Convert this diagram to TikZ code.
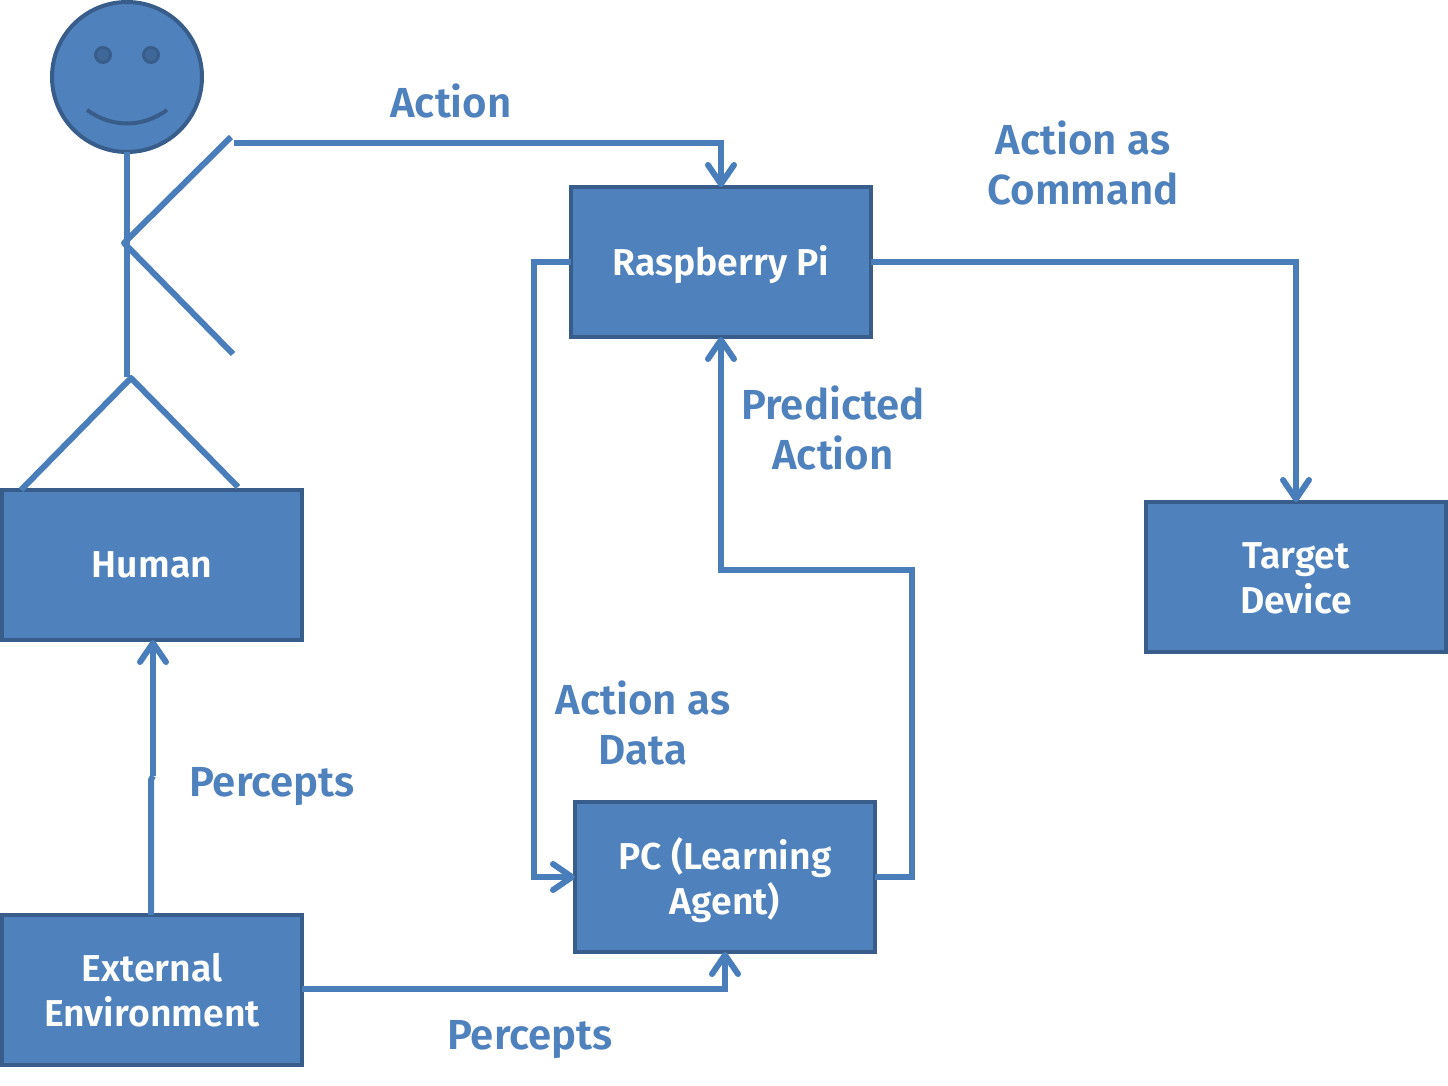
\documentclass[tikz,border=0pt]{standalone}
\usepackage{fontspec}
\setmainfont{Fira Sans}[UprightFont=* SemiBold,BoldFont=* SemiBold]
\usetikzlibrary{arrows.meta,calc}
\definecolor{boxfill}{HTML}{4F81BD}
\definecolor{boxedge}{HTML}{385D8A}
\definecolor{wire}{HTML}{4A7EBB}
\newcommand{\lowertext}[2]{\raisebox{-#1}[\height][\depth]{\begin{tabular}{@{}c@{}}#2\end{tabular}}}
\tikzset{
  x=0.5pt,y=-0.5pt,
  blockbox/.style={draw=boxedge,fill=boxfill,line width=2pt,rectangle,minimum width=150pt,minimum height=75pt,outer sep=0pt,inner sep=0pt,text=white,align=center,font=\fontsize{18.7}{22.5}\selectfont},
  wirelabel/.style={text=boxfill,align=center,inner sep=0pt,font=\fontsize{21}{25}\selectfont},
  wireline/.style={draw=wire,line width=3pt,line join=miter},
  wirearrow/.style={wireline,-{Straight Barb[length=9.5pt,width=13pt,round,line width=3pt]}},
  limb/.style={draw=wire,line width=3pt},
}
\begin{document}
\begin{tikzpicture}
\useasboundingbox (0,0) rectangle (1448,1086);
% boxes
\node[blockbox] (human) at (152,565) {Human};
\node[blockbox] (ext) at (152,990) {External\\Environment};
\node[blockbox] (pi) at (721,262) {\lowertext{2.5pt}{Raspberry Pi}};
\node[blockbox] (pc) at (725,877) {\lowertext{3pt}{PC (Learning\\Agent)}};
\node[blockbox] (target) at (1296,577) {\lowertext{2.5pt}{Target\\Device}};
% stick figure
\node[circle,draw=boxedge,fill=boxfill,line width=2pt,minimum size=75pt,inner sep=0pt,outer sep=0pt] (head) at (127,77) {};
\node[circle,draw=boxedge,fill=boxedge!70!boxfill,line width=1.5pt,minimum size=7.5pt,inner sep=0pt] (eyeL) at (103,55) {};
\node[circle,draw=boxedge,fill=boxedge!70!boxfill,line width=1.5pt,minimum size=7.5pt,inner sep=0pt] (eyeR) at (151,55) {};
\coordinate (smileL) at (87,110);
\coordinate (smileR) at (167,110);
\draw[boxedge,line width=2pt] (smileL) .. controls (112,128) and (142,128) .. (smileR);
\coordinate (hip) at (127,377);
\coordinate (hand) at (231,137);
\coordinate (waist) at (124,243);
\coordinate (handlow) at (233,354);
\coordinate (crotch) at (131,378);
\coordinate (footL) at (21,490);
\coordinate (footR) at (238,487);
\draw[limb] (head.south) -- (hip);
\draw[limb,line join=round] (hand) -- (waist) -- (handlow);
\draw[limb,line join=round] (footL) -- (crotch) -- (footR);
% connectors
\coordinate (actionstart) at (234,143);
\draw[wirearrow] (actionstart) -| (pi.north);
\draw[wirearrow] (pi.east) -| (target.north);
\draw[wirearrow] (pi.west) -- (534,262) |- (pc.west);
\draw[wirearrow] (pc.east) -- (912,877) -- (912,570) -- (721,570) -- (pi.south);
\draw[wirearrow] (ext.east |- 0,989) -| (pc.south);
\coordinate (jogA) at (151,915);
\coordinate (jogB) at (151,780);
\coordinate (jogC) at (153,776);
\coordinate (humanin) at (153,640);
\draw[wireline] (jogA) -- (jogB) -- (jogC);
\draw[wirearrow] (jogC) -- (humanin);
% labels
\node[wirelabel] (l1) at (451,101) {Action};
\node[wirelabel] (l2) at (1083,163) {Action as\\Command};
\node[wirelabel] (l3) at (833,428) {Predicted\\Action};
\node[wirelabel] (l4) at (643,723) {Action as\\Data};
\node[wirelabel] (l5) at (272,787) {Percepts};
\node[wirelabel] (l6) at (530,1040) {Percepts};
\end{tikzpicture}
\end{document}
